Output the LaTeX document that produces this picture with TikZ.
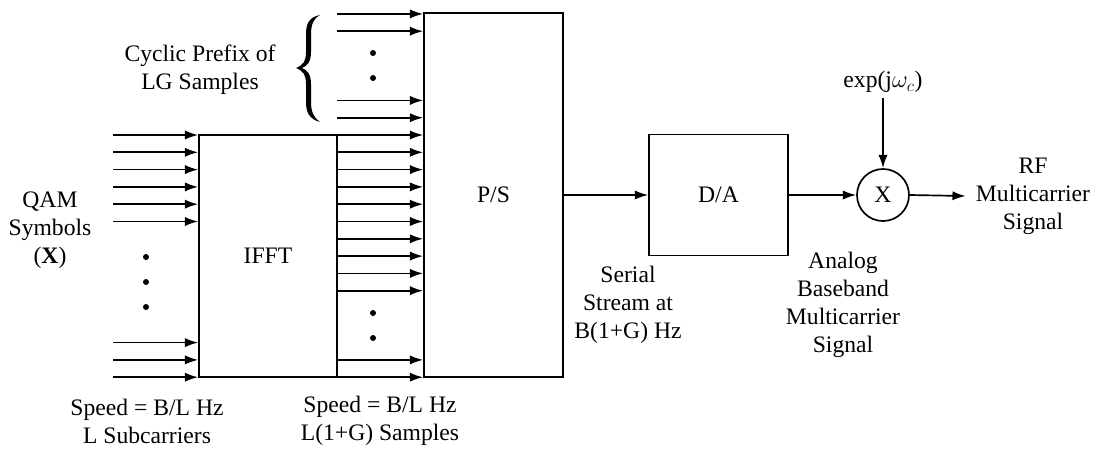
\documentclass[tikz,border=0pt]{standalone}
\usepackage{fontspec}
\setmainfont{Liberation Serif}
\usetikzlibrary{arrows.meta}
\tikzset{
  sig/.style={line width=1.2pt,-{Latex[length=3.3mm,width=2.3mm]}},
  blk/.style={draw,line width=1.2pt,inner sep=0pt},
  lbl/.style={align=center,inner sep=0pt},
  vdot/.style={circle,fill,inner sep=0pt,minimum size=1.5mm}
}

\begin{document}
\begin{tikzpicture}[x=0.025cm,y=-0.025cm,font=\fontsize{16.8}{20}\selectfont]
  \useasboundingbox (0,0) rectangle (1096,448);
  % blocks of the transmitter
  \node[blk,minimum width=3.45cm,minimum height=6.05cm] (ifft) at (268,256) {IFFT};
  \node[blk,minimum width=3.475cm,minimum height=9.1cm] (ps) at (493.5,195) {P/S};
  \node[blk,minimum width=3.475cm,minimum height=3.025cm] (da) at (718.5,195) {D/A};
  \node[blk,circle,minimum size=1.3cm] (mix) at (883,195) {X};
  % labels
  \node[lbl] (qam) at (50,230) {QAM\\Symbols\\(\textbf{X})};
  \node[lbl] (cp) at (200,70) {Cyclic Prefix of\\LG Samples};
  \node[lbl] (spdin) at (147,421) {Speed = B/L Hz\\L Subcarriers};
  \node[lbl] (spdout) at (380,421) {Speed = B/L Hz\\L(1+G) Samples};
  \node[lbl] (serial) at (628,305) {Serial\\Stream at\\B(1+G) Hz};
  \node[lbl] (analog) at (843,305) {Analog\\Baseband\\Multicarrier\\Signal};
  \node (exp) at (883,82) {exp(j$\omega_c$)};
  \node[lbl,inner sep=0.25cm] (rf) at (1033,196) {RF\\Multicarrier\\Signal};
  % brace over the cyclic prefix
  \fill (320,15) .. controls (309,17) and (306,24) .. (306,34) -- (306,52)
    .. controls (306,62) and (302,66) .. (296,68)
    .. controls (302,70) and (306,74) .. (306,84) -- (306,102)
    .. controls (306,112) and (309,119) .. (320,122)
    .. controls (314,118) and (311,112) .. (311,102) -- (311,84)
    .. controls (311,74) and (307,70) .. (302,68)
    .. controls (307,66) and (311,62) .. (311,52) -- (311,34)
    .. controls (311,24) and (314,18) .. (320,15) -- cycle;
  % parallel QAM inputs
  \foreach \k in {0,1,2,3,4,5,12,13,14} {
    \coordinate (in\k) at (113,{135+17.3*\k});
    \draw[sig] (in\k) -- (in\k -| ifft.west);
  }
  % IFFT outputs and cyclic prefix into P/S
  \foreach \k in {-7,-6,-2,-1,0,1,2,3,4,5,6,7,8,9,13,14} {
    \coordinate (out\k) at (337,{135+17.3*\k});
    \draw[sig] (out\k) -- (out\k -| ps.west);
  }
  % dots
  \foreach \y in {257,282,307} \node[vdot] (din\y) at (146,\y) {};
  \foreach \y in {53,78,313,338} \node[vdot] (dout\y) at (373,\y) {};
  % serial chain
  \draw[sig] (ps.east) -- (da.west);
  \draw[sig] (da.east) -- (mix.west);
  \draw[sig] (exp.south) -- (mix.north);
  \draw[sig] (mix.east) -- (rf.west);
\end{tikzpicture}
\end{document}
